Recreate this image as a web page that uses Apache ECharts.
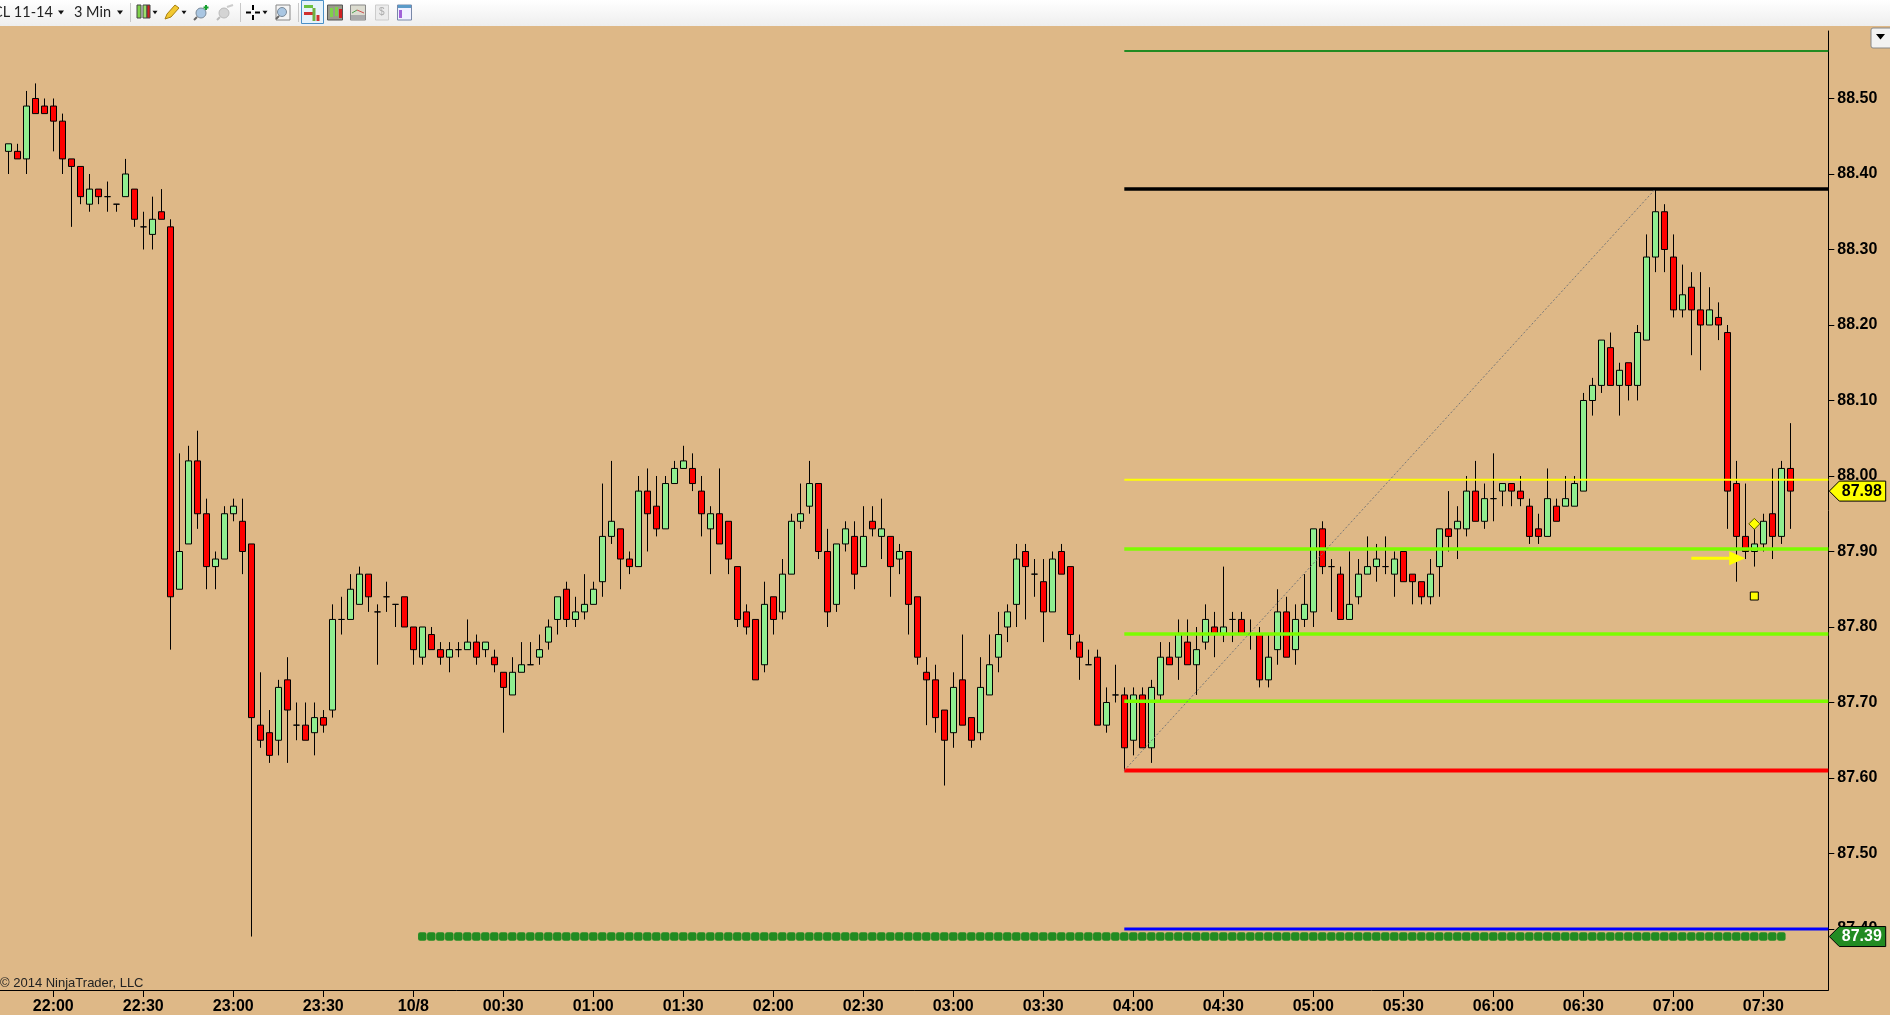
<!DOCTYPE html>
<html><head><meta charset="utf-8">
<style>html,body{margin:0;padding:0;background:#DEB887;overflow:hidden}#c{width:1890px;height:1015px}</style>
<script src="https://cdn.jsdelivr.net/npm/echarts@6/dist/echarts.min.js"></script>
</head><body><div id="c"></div>
<script>
const opens=[
88.43,88.43,88.42,88.50,88.49,88.49,88.47,88.42,88.41,88.36,
88.38,88.37,88.36,88.37,88.38,88.33,88.32,88.35,88.33,87.85,
87.91,88.02,87.95,87.88,87.89,87.95,87.94,87.91,87.67,87.66,
87.65,87.73,87.67,87.67,87.66,87.68,87.69,87.81,87.81,87.83,
87.87,87.82,87.84,87.83,87.84,87.80,87.76,87.79,87.77,87.76,
87.77,87.77,87.78,87.77,87.76,87.74,87.71,87.74,87.75,87.76,
87.78,87.81,87.85,87.81,87.82,87.83,87.86,87.92,87.93,87.89,
87.88,87.98,87.96,87.93,87.99,88.01,88.01,87.98,87.93,87.95,
87.94,87.88,87.82,87.81,87.75,87.84,87.82,87.87,87.94,87.96,
87.99,87.90,87.83,87.91,87.92,87.88,87.94,87.92,87.92,87.89,
87.90,87.84,87.74,87.73,87.69,87.66,87.73,87.68,87.66,87.71,
87.76,87.80,87.83,87.90,87.87,87.86,87.82,87.90,87.88,87.78,
87.75,87.76,87.67,87.71,87.71,87.65,87.71,87.64,87.71,87.76,
87.76,87.78,87.75,87.78,87.80,87.79,87.81,87.81,87.79,87.79,
87.73,87.77,87.82,87.77,87.81,87.82,87.93,87.88,87.87,87.81,
87.84,87.87,87.88,87.88,87.87,87.90,87.87,87.86,87.84,87.88,
87.93,87.93,87.93,87.98,87.94,87.97,87.98,87.99,87.98,87.96,
87.93,87.92,87.96,87.96,87.96,87.98,88.10,88.12,88.17,88.12,
88.15,88.12,88.18,88.29,88.35,88.29,88.22,88.25,88.22,88.20,
88.21,88.19,87.99,87.92,87.90,87.91,87.95,87.92,88.01];
const closes=[
88.44,88.42,88.49,88.48,88.48,88.47,88.42,88.41,88.37,88.38,
88.37,88.37,88.36,88.40,88.34,88.33,88.34,88.34,87.84,87.90,
88.02,87.95,87.88,87.89,87.95,87.96,87.90,87.68,87.65,87.63,
87.72,87.69,87.67,87.65,87.68,87.67,87.81,87.81,87.85,87.87,
87.84,87.82,87.84,87.83,87.80,87.77,87.80,87.77,87.76,87.77,
87.77,87.78,87.76,87.78,87.75,87.72,87.74,87.75,87.75,87.77,
87.80,87.84,87.81,87.82,87.83,87.85,87.92,87.94,87.89,87.88,
87.98,87.95,87.93,87.99,88.01,88.02,87.99,87.95,87.95,87.91,
87.89,87.81,87.80,87.73,87.83,87.81,87.87,87.94,87.95,87.99,
87.90,87.82,87.91,87.93,87.87,87.92,87.93,87.93,87.88,87.90,
87.83,87.76,87.73,87.68,87.65,87.72,87.67,87.65,87.72,87.75,
87.79,87.82,87.89,87.88,87.87,87.82,87.89,87.87,87.79,87.76,
87.75,87.67,87.70,87.71,87.64,87.71,87.64,87.72,87.76,87.75,
87.79,87.75,87.77,87.81,87.79,87.80,87.81,87.79,87.79,87.73,
87.76,87.82,87.76,87.81,87.83,87.93,87.88,87.88,87.81,87.83,
87.87,87.88,87.89,87.88,87.89,87.86,87.86,87.84,87.87,87.93,
87.92,87.94,87.98,87.94,87.97,87.97,87.99,87.98,87.97,87.92,
87.92,87.97,87.94,87.97,87.99,88.10,88.12,88.18,88.12,88.14,
88.12,88.19,88.29,88.35,88.30,88.22,88.24,88.22,88.20,88.22,
88.20,87.98,87.92,87.90,87.91,87.94,87.92,88.01,87.98];
const lows=[
88.40,88.42,88.40,88.48,88.48,88.43,88.40,88.33,88.36,88.35,
88.36,88.35,88.35,88.37,88.33,88.30,88.30,88.34,87.77,87.85,
87.91,87.93,87.85,87.85,87.89,87.94,87.87,87.39,87.64,87.62,
87.63,87.62,87.65,87.65,87.63,87.66,87.68,87.79,87.81,87.83,
87.82,87.75,87.82,87.80,87.80,87.75,87.75,87.77,87.75,87.74,
87.76,87.77,87.75,87.76,87.74,87.66,87.71,87.74,87.75,87.75,
87.77,87.79,87.80,87.80,87.81,87.83,87.84,87.91,87.85,87.87,
87.88,87.90,87.92,87.93,87.99,88.01,87.98,87.92,87.87,87.91,
87.87,87.80,87.79,87.73,87.74,87.79,87.81,87.87,87.93,87.95,
87.89,87.80,87.82,87.90,87.85,87.88,87.92,87.89,87.84,87.87,
87.79,87.75,87.67,87.66,87.59,87.64,87.67,87.64,87.65,87.71,
87.74,87.78,87.80,87.81,87.84,87.78,87.82,87.87,87.77,87.73,
87.75,87.67,87.66,87.70,87.61,87.63,87.64,87.62,87.70,87.75,
87.73,87.75,87.71,87.77,87.76,87.78,87.78,87.79,87.77,87.72,
87.72,87.75,87.76,87.75,87.80,87.80,87.87,87.82,87.81,87.81,
87.83,87.87,87.86,87.87,87.84,87.86,87.83,87.83,87.83,87.84,
87.90,87.89,87.92,87.94,87.93,87.94,87.96,87.96,87.96,87.91,
87.91,87.92,87.94,87.96,87.96,87.98,88.08,88.11,88.12,88.08,
88.10,88.10,88.18,88.27,88.27,88.21,88.21,88.16,88.14,88.20,
88.18,87.93,87.86,87.89,87.88,87.90,87.89,87.91,87.93];
const highs=[
88.44,88.44,88.51,88.52,88.50,88.50,88.48,88.42,88.41,88.40,
88.38,88.39,88.36,88.42,88.38,88.35,88.37,88.38,88.34,88.03,
88.04,88.06,87.97,87.90,87.96,87.97,87.97,87.91,87.74,87.69,
87.73,87.76,87.70,87.70,87.70,87.69,87.83,87.84,87.87,87.88,
87.87,87.83,87.86,87.83,87.84,87.80,87.80,87.80,87.78,87.78,
87.78,87.81,87.79,87.78,87.77,87.74,87.76,87.78,87.78,87.79,
87.81,87.84,87.86,87.84,87.87,87.86,87.99,88.02,87.93,87.90,
88.00,88.01,88.00,88.00,88.02,88.04,88.03,88.00,87.96,88.01,
87.94,87.88,87.83,87.81,87.86,87.84,87.89,87.95,87.99,88.02,
87.99,87.93,87.91,87.94,87.94,87.96,87.96,87.97,87.92,87.91,
87.90,87.84,87.76,87.75,87.69,87.74,87.79,87.68,87.76,87.79,
87.82,87.83,87.91,87.91,87.89,87.89,87.90,87.91,87.88,87.79,
87.77,87.77,87.72,87.75,87.72,87.72,87.72,87.73,87.78,87.78,
87.81,87.81,87.80,87.83,87.82,87.88,87.82,87.82,87.81,87.80,
87.79,87.85,87.84,87.83,87.87,87.93,87.94,87.89,87.88,87.90,
87.89,87.92,87.91,87.92,87.90,87.90,87.87,87.86,87.89,87.93,
87.98,87.96,88.00,88.02,87.99,88.03,87.99,87.99,88.00,87.97,
87.95,88.01,87.97,88.00,88.00,88.11,88.13,88.18,88.19,88.15,
88.15,88.20,88.32,88.38,88.36,88.32,88.28,88.27,88.27,88.25,
88.23,88.20,88.02,87.99,87.93,87.95,88.01,88.02,88.07];

const timeTickBars=[5,15,25,35,45,55,65,75,85,95,105,115,125,135,145,155,165,175,185,195];
const timeTickLabels=['22:00','22:30','23:00','23:30','10/8','00:30','01:00','01:30','02:00','02:30','03:00','03:30','04:00','04:30','05:00','05:30','06:00','06:30','07:00','07:30'];
const priceTicks=[87.4,87.5,87.6,87.7,87.8,87.9,88.0,88.1,88.2,88.3,88.4,88.5];

const levelStartBar=124;
const levelDarkGreen=88.563, levelBlack=88.38, levelYellow=87.995, levelGreen1=87.9034, levelGreen2=87.7907, levelGreen3=87.7015, levelRed=87.61, levelBlue=87.40;
const swingFrom=[124,87.61], swingTo=[183,88.38];
const dotLevel=87.39, dotFirstBar=46, dotLastBar=197;
const diamondMark=[194,87.9366], squareMark=[194,87.841];
const arrowFrom=[187,87.891], arrowHead=[192.1,87.891];
const lastPrice=87.98, lowPrice=87.39;

const xMin=-0.9222, xMax=202.22;
const candleData=opens.map((o,i)=>[i,o,closes[i],lows[i],highs[i]]);
const dots=[];for(let i=dotFirstBar;i<=dotLastBar;i++)dots.push([i,dotLevel]);

function level(v,color,w,z){return{type:'line',data:[[levelStartBar,v],[xMax,v]],symbol:'none',silent:true,z:z||4,
  lineStyle:{color:color,width:w,cap:'butt'},clip:true};}
function badge(v,fill,txt){return{type:'custom',data:[[xMax,v]],silent:true,z:20,clip:false,
  renderItem:function(p,api){const c=api.coord([api.value(0),api.value(1)]);const x=c[0],y=c[1];
    return{type:'group',children:[
      {type:'polygon',shape:{points:[[x+1,y],[x+11,y-10],[x+57.4,y-10],[x+57.4,y+10],[x+11,y+10]]},style:{fill:fill,stroke:'#000',lineWidth:1}},
      {type:'text',style:{x:x+33.5,y:y,text:v.toFixed(2),fill:txt,font:'bold 16px "Liberation Sans"',align:'center',verticalAlign:'middle'}}]};}};}

const F='"Liberation Sans"';
const tb=[];
function R(x,y,w,h,fill,stroke,r){tb.push({type:'rect',shape:{x:x,y:y,width:w,height:h,r:r||0},style:{fill:fill,stroke:stroke||null,lineWidth:1},z:100,silent:true});}
function T(x,y,s,size,fill,font){tb.push({type:'text',style:{x:x,y:y,text:s,fill:fill||'#222',font:size+'px '+(font||'Lato'),verticalAlign:'middle'},z:101,silent:true});}
function Tri(x,y,s,c){tb.push({type:'polygon',shape:{points:[[x-s,y-s/2],[x+s,y-s/2],[x,y+s/2+1]]},style:{fill:c||'#111'},z:101,silent:true});}
function L(a,b,c,d,col,w){tb.push({type:'line',shape:{x1:a,y1:b,x2:c,y2:d},style:{stroke:col,lineWidth:w||1},z:101,silent:true});}
function C(x,y,r,fill,stroke){tb.push({type:'circle',shape:{cx:x,cy:y,r:r},style:{fill:fill,stroke:stroke||null,lineWidth:1},z:101,silent:true});}
tb.push({type:'rect',shape:{x:0,y:0,width:1890,height:26},style:{fill:new echarts.graphic.LinearGradient(0,0,0,1,[{offset:0,color:'#ffffff'},{offset:1,color:'#eeeeee'}])},z:99,silent:true});
T(-7,12.5,'CL 11-14',14.5);T(74,12.5,'3 Min',14.5);Tri(61,12,3);Tri(120,12,3);
L(130.5,3,130.5,22,'#c8c8c8');
R(137,5,4,13,'#7fd24a','#444');R(143,5,4,13,'#9be06a','#444');R(147,5,3,13,'#d02020','#444');Tri(155,12,2.5);
tb.push({type:'polygon',shape:{points:[[165,19],[167,14],[175,5],[179,8],[171,17]]},style:{fill:'#f2c830',stroke:'#a88010'},z:101,silent:true});Tri(184,12,2.5);
C(201,13,5,'#a9c6e2','#7a8a9a');L(197,17,194,20,'#666',2);L(206,5,206,10,'#18a030',2);L(203.5,7.5,208.5,7.5,'#18a030',2);
C(224,13,5,'#d4d4d4','#bbb');L(220,17,217,20,'#bbb',2);L(227,7,233,5,'#ccc',2);
L(240.5,3,240.5,22,'#c8c8c8');
L(246,12.5,251,12.5,'#000',2);L(255,12.5,260,12.5,'#000',2);L(253,5,253,10,'#000',2);L(253,15,253,20,'#000',2);Tri(265,12,2.5);
R(276,5,14,15,'#f4f4f4','#888');C(282,12,4.5,'#a9c6e2','#7a8a9a');L(279,16,276,19,'#666',2);
L(298.5,3,298.5,22,'#c8c8c8');
R(301.5,0.5,22,23,'#e6f2fb','#4a90c8');
R(304,5,9,3,'#6cc040');R(304,12,11,3,'#d03030');L(314,8,314,21,'#70b040',3);L(318,15,318,21,'#d03030',3);
R(327.5,5,15,15,'#9a9a8a','#555');R(330,8,3,9,'#7fd24a');R(335,7,3,9,'#7fd24a');R(339,9,3,9,'#d02020');
R(350.5,5,15,15,'#dcdcd0','#888');L(352,13,357,10,'#50a050');L(357,10,364,13,'#d05050');R(351,15,14,5,'#aaa');
R(375.5,5,13,15,'#ececec','#ccc');T(379,12.5,'$',10,'#aaa',F);
R(397.5,5,14,15,'#f0f0ff','#7888a8');R(398,5,13,3,'#5a9ac8');R(399,10,3,8,'#a060d8');
// top-right dropdown button
tb.push({type:'rect',shape:{x:1871,y:28,width:24,height:20,r:2},style:{fill:'#f2f2f2',stroke:'#888',lineWidth:1},z:100,silent:true});
tb.push({type:'polygon',shape:{points:[[1876,34],[1885,34],[1880.5,39.5]]},style:{fill:'#000'},z:101,silent:true});
// copyright
tb.push({type:'text',style:{x:0,y:983,text:'\u00a9 2014 NinjaTrader, LLC',fill:'#222',font:'13px '+F,verticalAlign:'middle'},z:10,silent:true});

const chart=echarts.init(document.getElementById('c'),null,{renderer:'canvas'});
chart.setOption({
  animation:false,backgroundColor:'#DEB887',
  grid:{left:0,top:31,width:1828.3,height:959},
  xAxis:{type:'value',min:xMin,max:xMax,scale:true,splitLine:{show:false},
    axisLine:{lineStyle:{color:'#000',width:1},onZero:false},
    axisTick:{show:true,length:7,lineStyle:{color:'#000'},customValues:timeTickBars},
    axisLabel:{show:true,customValues:timeTickBars,color:'#000',fontFamily:F,fontWeight:'bold',fontSize:16,margin:9,hideOverlap:false,
      formatter:v=>timeTickLabels[timeTickBars.indexOf(Math.round(v))]||''}},
  yAxis:{type:'value',position:'right',min:87.3192,max:88.5894,scale:true,splitLine:{show:false},
    axisLine:{show:true,onZero:false,lineStyle:{color:'#000',width:1}},
    axisTick:{show:true,length:6,lineStyle:{color:'#000'},customValues:priceTicks},
    axisLabel:{show:true,customValues:priceTicks,color:'#000',fontFamily:F,fontWeight:'bold',fontSize:16,margin:9,hideOverlap:false,
      formatter:v=>v.toFixed(2)}},
  graphic:tb,
  series:[
    {type:'candlestick',data:candleData,encode:{x:0,y:[1,2,3,4]},barWidth:6,silent:true,z:2,clip:true,
      itemStyle:{color:'#90EE90',color0:'#FF0000',borderColor:'#000',borderColor0:'#000',borderColorDoji:'#000',borderWidth:1}},
    level(levelDarkGreen,'#228B22',2),
    level(levelBlack,'#000',3.5),
    level(levelYellow,'#FFFF00',2),
    level(levelGreen1,'#7CFC00',3.5),
    level(levelGreen2,'#7CFC00',3.5),
    level(levelGreen3,'#7CFC00',3.5),
    level(levelRed,'#FF0000',4),
    level(levelBlue,'#0000FF',3),
    {type:'line',data:[swingFrom,swingTo],symbol:'none',silent:true,z:5,lineStyle:{color:'#777777',width:1,type:[2,2]}},
    {type:'scatter',data:dots,symbol:'roundRect',symbolSize:8.5,silent:true,z:6,itemStyle:{color:'#228B22',opacity:1}},
    {type:'scatter',data:[diamondMark],symbol:'diamond',symbolSize:11,silent:true,z:7,itemStyle:{color:'#FFFF00',borderColor:'#5a5a00',borderWidth:1,opacity:1}},
    {type:'scatter',data:[squareMark],symbol:'rect',symbolSize:8,silent:true,z:7,itemStyle:{color:'#FFFF00',borderColor:'#000',borderWidth:1,opacity:1}},
    {type:'line',silent:true,z:7,lineStyle:{color:'#FFFF00',width:3},itemStyle:{color:'#FFFF00'},showSymbol:true,
      data:[{value:arrowFrom,symbol:'none'},{value:arrowHead,symbol:'triangle',symbolRotate:-90,symbolSize:[14,16]}]},
    badge(lastPrice,'#FFFF00','#000'),
    badge(lowPrice,'#228B22','#fff')
  ]
});
</script></body></html>
